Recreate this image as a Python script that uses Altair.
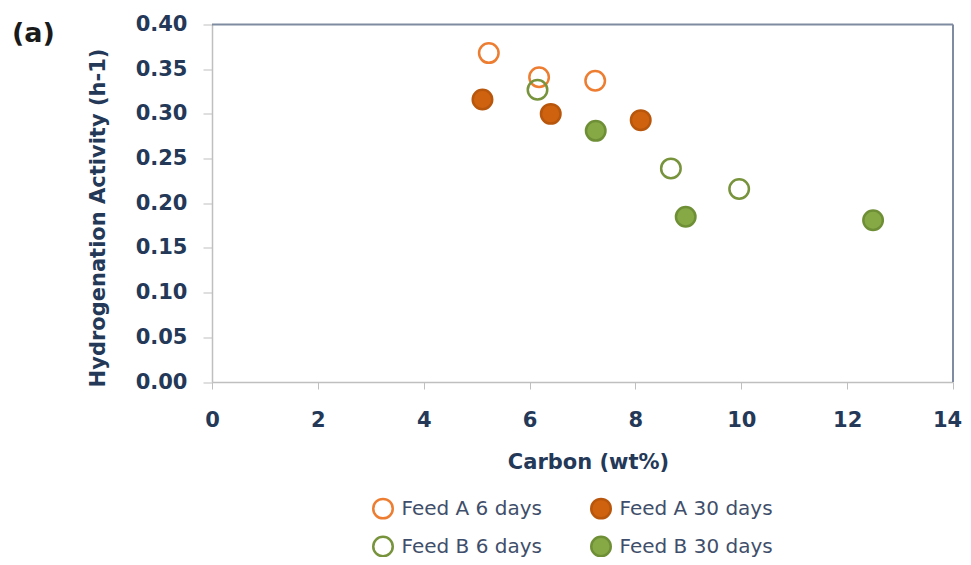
import altair as alt
import pandas as pd

# ---- data ----
series = ["Feed A 6 days", "Feed A 30 days", "Feed B 6 days", "Feed B 30 days"]

feed_a_6_x = [5.23, 6.18, 7.24]
feed_a_6_y = [0.368, 0.341, 0.337]

feed_a_30_x = [5.11, 6.40, 8.10]
feed_a_30_y = [0.316, 0.300, 0.293]

feed_b_6_x = [6.15, 8.67, 9.96]
feed_b_6_y = [0.327, 0.239, 0.216]

feed_b_30_x = [7.25, 8.95, 12.49]
feed_b_30_y = [0.281, 0.185, 0.181]

x_ticks = [0, 2, 4, 6, 8, 10, 12, 14]
y_ticks = [0.0, 0.05, 0.10, 0.15, 0.20, 0.25, 0.30, 0.35, 0.40]

panel_label = ["(a)"]

# ---- styles ----
fills = ["transparent", "#CF620F", "transparent", "#86A946"]
strokes = ["#ED7D31", "#B8560C", "#77933C", "#6F8F36"]
sizes = [380, 380, 380, 280]

FONT = "DejaVu Sans"
AXIS_TXT = "#243858"
W, H = 741, 357.5

rows = []
for name, xs, ys in [
    (series[0], feed_a_6_x, feed_a_6_y),
    (series[1], feed_a_30_x, feed_a_30_y),
    (series[2], feed_b_6_x, feed_b_6_y),
    (series[3], feed_b_30_x, feed_b_30_y),
]:
    for xv, yv in zip(xs, ys):
        rows.append({"series": name, "carbon": xv, "activity": yv})
df = pd.DataFrame(rows)
lab_df = pd.DataFrame({"label": panel_label})

x_axis = alt.Axis(
    values=x_ticks, format="d", grid=False,
    tickSize=7, tickColor="#BFBFBF", domainColor="#BFBFBF", domainWidth=1.5,
    labelFont=FONT, labelFontWeight="bold", labelFontSize=21, labelColor=AXIS_TXT,
    labelBaseline="alphabetic", labelPadding=37, labelFlush=False, labelOverlap=False,
    labelOffset={"condition": {"test": "datum.value == 14", "value": -6}, "value": 0},
    titleFont=FONT, titleFontWeight="bold", titleFontSize=21, titleColor=AXIS_TXT,
    titleX=376, titleY=86, titleBaseline="alphabetic", titleAlign="center",
)
y_axis = alt.Axis(
    values=y_ticks, format=".2f", grid=False,
    tickSize=9, tickColor="#BFBFBF", domainColor="#BFBFBF", domainWidth=1.5,
    labelFont=FONT, labelFontWeight="bold", labelFontSize=21, labelColor=AXIS_TXT,
    labelPadding=16, labelFlush=False, labelOverlap=False,
    titleFont=FONT, titleFontWeight="bold", titleFontSize=21, titleColor=AXIS_TXT,
    titleAngle=270, titleX=-108, titleY=193, titleBaseline="alphabetic", titleAlign="center",
)

leg = alt.Legend(title=None)

points = alt.Chart(df).mark_point(shape="circle", strokeWidth=2.5, opacity=1).encode(
    x=alt.X("carbon:Q", title="Carbon (wt%)", scale=alt.Scale(domain=[0, 14], nice=False), axis=x_axis),
    y=alt.Y("activity:Q", title="Hydrogenation Activity (h-1)", scale=alt.Scale(domain=[0, 0.4], nice=False), axis=y_axis),
    fill=alt.Fill("series:N", sort=series, scale=alt.Scale(domain=series, range=fills), legend=leg),
    stroke=alt.Stroke("series:N", sort=series, scale=alt.Scale(domain=series, range=strokes), legend=leg),
    size=alt.Size("series:N", sort=series, scale=alt.Scale(domain=series, range=sizes), legend=leg),
)

label = alt.Chart(lab_df).mark_text(
    align="left", baseline="alphabetic", font=FONT, fontSize=27, fontWeight="bold", color="#1a1a1a"
).encode(text="label:N", x=alt.value(-200), y=alt.value(17))

top_border = alt.Chart(lab_df).mark_rule(color="#7F8BA0", strokeWidth=2).encode(
    x=alt.value(0), x2=alt.value(W), y=alt.value(0)
)
right_border = alt.Chart(lab_df).mark_rule(color="#7F8BA0", strokeWidth=2).encode(
    x=alt.value(W), y=alt.value(0), y2=alt.value(H)
)

chart = alt.layer(points, top_border, right_border, label).properties(
    width=W, height=H,
    autosize=alt.AutoSizeParams(type="none"),
    padding={"left": 204, "top": 16.5, "right": 10, "bottom": 175},
).configure_view(stroke=None).configure_legend(
    orient="none", legendX=160, legendY=473, columns=2, direction="horizontal",
    labelFont=FONT, labelFontSize=20, labelColor="#3F4F6B", labelLimit=400,
    symbolStrokeWidth=2.5, symbolType="circle", labelOffset=7.5,
    columnPadding=44, rowPadding=8, padding=0,
)

chart.save("out.html", embed_options={"renderer": "svg", "actions": False})
